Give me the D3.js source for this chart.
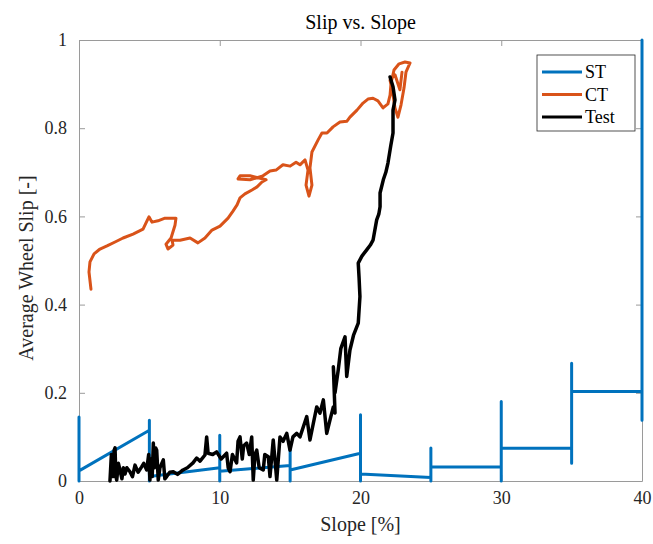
<!DOCTYPE html>
<html>
<head>
<meta charset="utf-8">
<script src="https://cdn.jsdelivr.net/npm/d3@7"></script>
<style>
  body { margin: 0; background: #fff; }
  text { font-family: "Liberation Serif", "DejaVu Serif", "Noto Serif", "Times New Roman", serif; }
  .tick text { font-size: 18px; fill: #262626; }
</style>
</head>
<body>
<div id="chart"></div>
<script>
// series data (slope %, average wheel slip)
var stX = [0, 0, 0, 5, 5, 5, 5, 10, 10, 10, 10, 15, 15, 15, 15, 20, 20, 20, 20, 25, 25, 25, 25, 30, 30, 30, 30, 35, 35, 35, 35, 40, 40, 40];
var stY = [0, 0.145, 0.023, 0.115, 0.138, 0, 0.01, 0.03, 0.104, 0, 0.022, 0.035, 0.086, 0, 0.025, 0.063, 0.15, 0, 0.016, 0.008, 0.075, 0, 0.032, 0.032, 0.18, 0, 0.074, 0.074, 0.267, 0.04, 0.203, 0.203, 1.0, 0.138];

var ctX = [0.85, 0.71, 0.78, 1.07, 1.49, 1.99, 2.56, 3.13, 3.84, 4.55, 4.83, 4.97, 5.19, 5.61, 6.11, 6.47, 6.89, 6.82, 6.54, 6.18, 6.32, 6.68, 6.61, 7.18, 7.89, 8.45, 8.95, 9.45, 10.02, 10.59, 10.94, 11.23, 11.44, 11.79, 12.29, 12.65, 13.0, 13.29, 12.15, 11.44, 11.3, 12.15, 13.07, 13.57, 14.0, 14.49, 15.0, 15.42, 15.7, 16.06, 16.27, 16.13, 16.34, 16.55, 16.41, 16.55, 16.98, 17.26, 17.62, 18.05, 18.54, 19.04, 19.25, 19.75, 20.18, 20.53, 20.89, 21.24, 21.6, 21.95, 22.1, 22.17, 22.38, 22.74, 23.16, 23.52, 23.23, 23.09, 22.88, 22.66, 22.45, 22.31, 22.1, 22.45, 22.8, 22.95];
var ctY = [0.435, 0.474, 0.497, 0.515, 0.526, 0.533, 0.542, 0.551, 0.56, 0.571, 0.59, 0.599, 0.587, 0.59, 0.596, 0.596, 0.596, 0.58, 0.551, 0.537, 0.526, 0.535, 0.546, 0.546, 0.551, 0.54, 0.551, 0.569, 0.578, 0.596, 0.612, 0.626, 0.642, 0.651, 0.66, 0.667, 0.678, 0.683, 0.692, 0.692, 0.685, 0.683, 0.692, 0.703, 0.705, 0.717, 0.714, 0.723, 0.717, 0.728, 0.705, 0.671, 0.646, 0.671, 0.71, 0.746, 0.773, 0.789, 0.789, 0.803, 0.814, 0.816, 0.825, 0.841, 0.857, 0.866, 0.868, 0.862, 0.846, 0.855, 0.875, 0.902, 0.932, 0.946, 0.95, 0.948, 0.927, 0.891, 0.853, 0.825, 0.846, 0.875, 0.909, 0.921, 0.887, 0.927];

var testX = [2.2, 2.3, 2.42, 2.5, 2.56, 2.62, 2.68, 2.8, 2.91, 3.05, 3.15, 3.27, 3.4, 3.62, 3.8, 3.98, 4.2, 4.45, 4.6, 4.81, 4.95, 5.04, 5.1, 5.2, 5.28, 5.35, 5.45, 5.52, 5.63, 5.75, 5.99, 6.1, 6.23, 6.45, 6.7, 7.0, 7.39, 7.7, 8.1, 8.36, 8.6, 8.95, 9.07, 9.17, 9.5, 9.78, 10.1, 10.49, 10.6, 10.73, 10.9, 11.2, 11.3, 11.44, 11.6, 11.7, 11.91, 12.1, 12.27, 12.38, 12.5, 12.63, 12.8, 13.09, 13.2, 13.45, 13.57, 13.8, 14.05, 14.28, 14.5, 14.76, 14.99, 15.2, 15.47, 15.7, 15.94, 16.18, 16.41, 16.65, 16.89, 17.12, 17.36, 17.6, 17.83, 18.07, 18.19, 18.07, 18.19, 18.42, 18.6, 18.9, 19.02, 19.25, 19.5, 19.84, 19.96, 19.9, 19.84, 20.1, 20.44, 20.7, 20.89, 21.15, 21.3, 21.39, 21.39, 21.62, 21.8, 21.95, 22.15, 22.31, 22.31, 22.45, 22.31, 22.1];
var testY = [0, 0.06, 0.01, 0.07, 0.075, 0.01, 0.002, 0.04, 0.025, 0.005, 0.03, 0.016, 0.03, 0.021, 0.01, 0.036, 0.02, 0.032, 0.04, 0.025, 0.06, 0.002, 0.05, 0.01, 0.086, 0.03, 0.075, 0.07, 0.002, 0.03, 0.048, 0.005, 0.01, 0.02, 0.021, 0.015, 0.025, 0.03, 0.041, 0.052, 0.045, 0.059, 0.1, 0.063, 0.06, 0.066, 0.05, 0.063, 0.03, 0.021, 0.06, 0.041, 0.09, 0.1, 0.05, 0.08, 0.086, 0.06, 0.1, 0.002, 0.06, 0.07, 0.03, 0.025, 0.06, 0.055, 0.01, 0.093, 0.002, 0.1, 0.09, 0.108, 0.07, 0.1, 0.108, 0.1, 0.123, 0.146, 0.093, 0.131, 0.168, 0.154, 0.184, 0.108, 0.138, 0.168, 0.154, 0.259, 0.2, 0.252, 0.3, 0.327, 0.237, 0.297, 0.33, 0.358, 0.418, 0.46, 0.494, 0.51, 0.524, 0.535, 0.546, 0.592, 0.605, 0.622, 0.653, 0.683, 0.7, 0.721, 0.76, 0.789, 0.841, 0.864, 0.894, 0.916];

var xTicks = [0, 10, 20, 30, 40];
var yTicks = [0, 0.2, 0.4, 0.6, 0.8, 1];
var seriesNames = ["ST", "CT", "Test"];
var seriesColors = ["#0072BD", "#D95319", "#000000"];

// svg container
var svgWidth = 653;
var svgHeight = 544;
var margin = { top: 40, right: 11, bottom: 63, left: 79 };
var chartWidth = svgWidth - margin.left - margin.right;
var chartHeight = svgHeight - margin.top - margin.bottom;

var svg = d3.select("#chart").append("svg")
    .attr("width", svgWidth)
    .attr("height", svgHeight);

var chartGroup = svg.append("g")
    .attr("transform", `translate(${margin.left}, ${margin.top})`);

// scales
var xScale = d3.scaleLinear().domain([0, 40]).range([0, chartWidth]);
var yScale = d3.scaleLinear().domain([0, 1]).range([chartHeight, 0]);

// axes (box with inward ticks)
var fmt = d3.format("~g");
var axisColor = "#9a9a9a";

var xBottom = chartGroup.append("g")
    .attr("transform", `translate(0, ${chartHeight})`)
    .call(d3.axisBottom(xScale).tickValues(xTicks).tickFormat(fmt).tickSizeInner(-6).tickSizeOuter(0).tickPadding(10));
var xTop = chartGroup.append("g")
    .call(d3.axisTop(xScale).tickValues(xTicks).tickFormat("").tickSizeInner(-6).tickSizeOuter(0));
var yLeft = chartGroup.append("g")
    .call(d3.axisLeft(yScale).tickValues(yTicks).tickFormat(fmt).tickSizeInner(-6).tickSizeOuter(0).tickPadding(12));
var yRight = chartGroup.append("g")
    .attr("transform", `translate(${chartWidth}, 0)`)
    .call(d3.axisRight(yScale).tickValues(yTicks).tickFormat("").tickSizeInner(-6).tickSizeOuter(0));

[xBottom, xTop, yLeft, yRight].forEach(function (ax) {
    ax.attr("font-family", null);
    ax.select(".domain").attr("stroke", axisColor);
    ax.selectAll(".tick line").attr("stroke", axisColor);
});

// lines
var seriesData = [
    d3.zip(stX, stY),
    d3.zip(ctX, ctY),
    d3.zip(testX, testY)
];

var line = d3.line()
    .x(d => xScale(d[0]))
    .y(d => yScale(d[1]));

chartGroup.selectAll(".series")
    .data(seriesData)
    .enter()
    .append("path")
    .attr("class", "series")
    .attr("d", line)
    .attr("fill", "none")
    .attr("stroke", (d, i) => seriesColors[i])
    .attr("stroke-width", (d, i) => i == 2 ? 3.5 : 3)
    .attr("stroke-linejoin", "round")
    .attr("stroke-linecap", "round");

// title and axis labels
svg.append("text")
    .attr("x", margin.left + chartWidth / 2)
    .attr("y", 29)
    .attr("text-anchor", "middle")
    .attr("font-size", "20px")
    .attr("fill", "#000")
    .text("Slip vs. Slope");

svg.append("text")
    .attr("x", margin.left + chartWidth / 2)
    .attr("y", 531)
    .attr("text-anchor", "middle")
    .attr("font-size", "20px")
    .attr("fill", "#262626")
    .text("Slope [%]");

svg.append("text")
    .attr("transform", "translate(33, 268) rotate(-90)")
    .attr("text-anchor", "middle")
    .attr("font-size", "20px")
    .attr("fill", "#262626")
    .text("Average Wheel Slip [-]");

// legend
var legend = svg.append("g").attr("transform", "translate(537, 55)");
legend.append("rect")
    .attr("width", 98)
    .attr("height", 76)
    .attr("fill", "#fff")
    .attr("stroke", "#262626")
    .attr("stroke-width", 0.8);

var items = legend.selectAll(".item")
    .data(seriesNames)
    .enter()
    .append("g")
    .attr("transform", (d, i) => `translate(0, ${17 + i * 22.5})`);

items.append("line")
    .attr("x1", 5).attr("x2", 45)
    .attr("stroke", (d, i) => seriesColors[i])
    .attr("stroke-width", 3);

items.append("text")
    .attr("x", 48)
    .attr("y", 6)
    .attr("font-size", "18px")
    .attr("fill", "#000")
    .text(d => d);
</script>
</body>
</html>
